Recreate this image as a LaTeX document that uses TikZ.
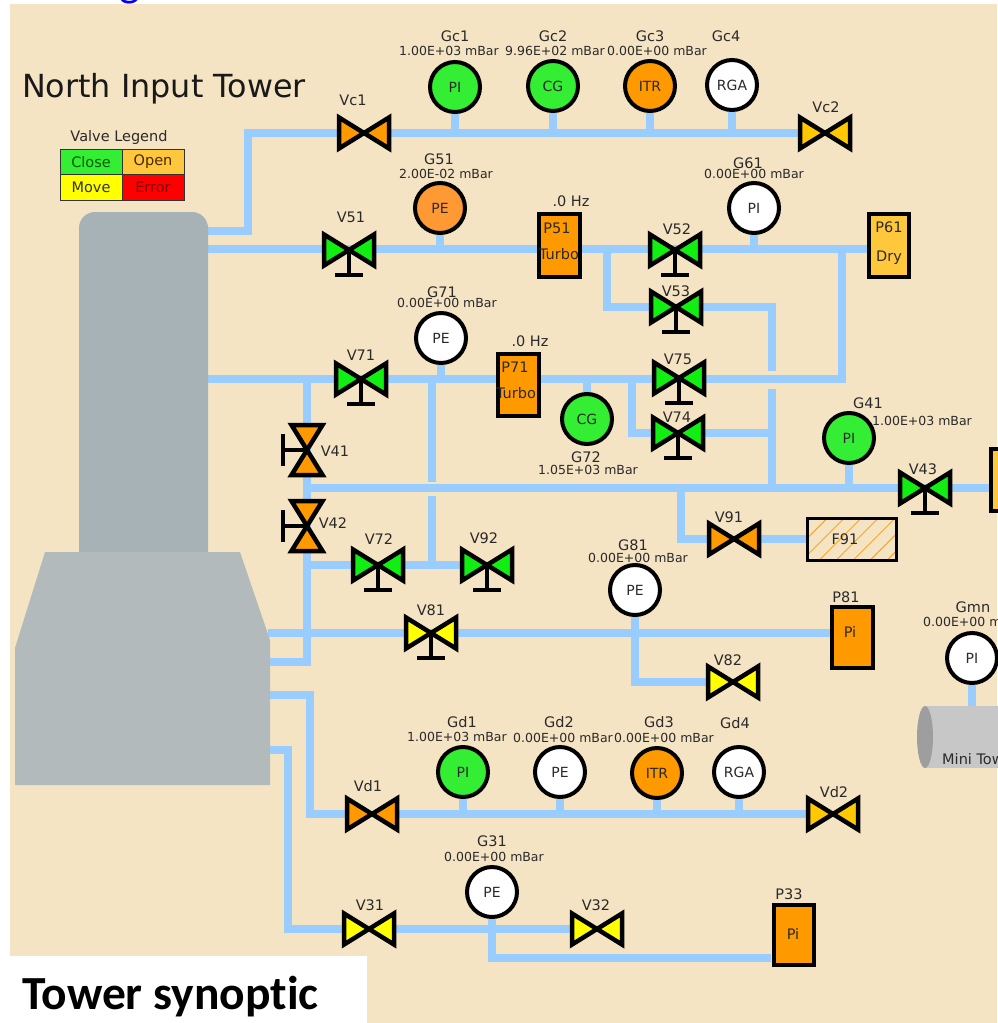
\documentclass[tikz,border=0pt]{standalone}
\usepackage{fontspec}
\setmainfont{DejaVu Sans}
\newfontfamily\slidefont[Ligatures=NoCommon]{Carlito}
\usepackage{xcolor}
\usepackage{tikz}
\usetikzlibrary{calc,patterns.meta,shapes.geometric}
\definecolor{sandc}{HTML}{F5E4C3}
\definecolor{pipec}{HTML}{99CCFF}
\definecolor{vgrn}{HTML}{11EE11}
\definecolor{ggrn}{HTML}{33EE33}
\definecolor{orgc}{HTML}{FF9900}
\definecolor{porg}{HTML}{FF9933}
\definecolor{ambc}{HTML}{FFC83C}
\definecolor{golc}{HTML}{FFC800}
\definecolor{yelc}{HTML}{FFFF00}
\definecolor{txtc}{HTML}{2A2A2A}
\definecolor{twru}{HTML}{A6B2B5}
\definecolor{twrl}{HTML}{B3BABB}
\tikzset{
  pipe/.style={draw=pipec,line width=8pt},
  vbox/.style={minimum width=50pt,minimum height=31pt,inner sep=0pt,outer sep=0pt},
  hbox/.style={minimum width=31pt,minimum height=50pt,inner sep=0pt,outer sep=0pt},
  vln/.style={draw=black,line width=4.5pt,miter limit=6},
  hnd/.style={draw=black,line width=4.5pt},
  gau/.style={circle,draw=black,line width=4pt,minimum size=50pt,inner sep=0pt,font=\fontsize{14}{14}\selectfont,text=txtc},
  pmp/.style={draw=black,line width=4pt,inner sep=0pt},
  nl/.style={inner sep=0pt,text=txtc,font=\fontsize{14.5}{15}\selectfont},
  vl/.style={inner sep=0pt,text=txtc,font=\fontsize{12.5}{13}\selectfont},
  lg/.style={draw=black!80,line width=1pt,minimum width=62pt,minimum height=25.5pt,inner sep=0pt,font=\fontsize{14.5}{15}\selectfont}
}
\pgfdeclarelayer{back}
\pgfdeclarelayer{pipes}
\pgfsetlayers{back,pipes,main}
\begin{document}
\begin{tikzpicture}[x=1pt,y=-1pt]
\useasboundingbox (0,0) rectangle (997,1023);
\begin{pgfonlayer}{back}
\fill[sandc] (10,4) rectangle (997,1023);
\fill[white] (0,956) rectangle (367,1023);
\end{pgfonlayer}
\node[anchor=base,inner sep=0pt,text=blue,font=\slidefont\fontsize{44}{44}\selectfont] (gcut) at (130,-4) {g};
\node[anchor=west,inner sep=0pt,text=black!90,font=\fontsize{31.8}{33}\selectfont] (title) at (22,89) {North Input Tower};
\node[anchor=west,inner sep=0pt,font=\slidefont\bfseries\fontsize{47.5}{48}\selectfont] (tsyn) at (22,997) {Tower synoptic};
% legend
\node[nl] (lgt) at (119,137) {Valve Legend};
\node[lg,fill=ggrn,text=green!35!black] (lg1) at (91,162) {Close};
\node[lg,fill=ambc,text=black!70!orange] (lg2) at (153,162) {Open};
\node[lg,fill=yelc,text=black!80] (lg3) at (91,187.5) {Move};
\node[lg,fill=red,text=red!50!black] (lg4) at (153,187.5) {Error};
% tower
\fill[twru] (79,552) -- (79,228) to[out=90,in=180] (95,212) -- (192,212) to[out=0,in=90] (208,228) -- (208,552) -- cycle;
\fill[twrl] (45,552) -- (240,552) -- (270,640) -- (270,785) -- (15,785) -- (15,648) -- cycle;
\coordinate (tw1) at (208,231);
\coordinate (tw2) at (208,249);
\coordinate (tw3) at (208,379);
\coordinate (ld1) at (268,633);
\coordinate (ld2) at (270,662);
\coordinate (ld3) at (270,695);
\coordinate (ld4) at (270,750);
% valves
\foreach \vn/\x/\y/\col/\lx/\ly in {Vc1/364/133/orgc/353/100,Vc2/825/133/golc/826/107,V51/349/250/vgrn/351/217,V52/675/250/vgrn/677/229,V53/676/307/vgrn/676/291,V71/361/379/vgrn/361/355,V75/679/378/vgrn/678/359,V74/678/433/vgrn/677/417,V43/925/488/vgrn/923/469,V72/378/565/vgrn/379/539,V92/487/565/vgrn/484/538,V91/734/539/orgc/729/517,V81/431/633/yelc/431/610,V82/733/682/yelc/728/660,Vd1/372/814/orgc/368/786,Vd2/833/814/golc/834/792,V31/369/929/yelc/370/905,V32/597/929/yelc/596/905}{
 \node[vbox] (\vn) at (\x,\y) {};
 \draw[vln,fill=\col] (\vn.north west) -- (\vn.south east) -- (\vn.north east) -- (\vn.south west) -- cycle;
 \node[nl] (\vn-l) at (\lx,\ly) {\vn};}
\foreach \vn in {V51,V52,V53,V71,V75,V74,V43,V72,V92,V81}{
 \draw[hnd] (\vn.center) -- ($(\vn)+(0,25)$);
 \draw[hnd] ($(\vn)+(-14,25)$) -- ($(\vn)+(14,25)$);}
\foreach \vn/\y/\lx/\ly/\col in {V41/450/335/451/orgc,V42/526/333/523/orgc}{
 \node[hbox] (\vn) at (307,\y) {};
 \draw[vln,fill=\col] (\vn.north west) -- (\vn.south east) -- (\vn.south west) -- (\vn.north east) -- cycle;
 \draw[hnd] (\vn.center) -- ($(\vn)+(-24,0)$);
 \draw[hnd] ($(\vn)+(-24,-16)$) -- ($(\vn)+(-24,16)$);
 \node[nl] (\vn-l) at (\lx,\ly) {\vn};}
% gauges
\foreach \gn/\x/\y/\col/\txt in {Gc1/455/87/ggrn/PI,Gc2/553/86/ggrn/CG,Gc3/650/86/orgc/ITR,Gc4/732/85/white/RGA,G51/440/208/porg/PE,G61/754/208/white/PI,G71/441/338/white/PE,G72/587/419/ggrn/CG,G41/849/438/ggrn/PI,G81/635/590/white/PE,Gmn/972/658/white/PI,Gd1/463/772/ggrn/PI,Gd2/560/772/white/PE,Gd3/657/773/orgc/ITR,Gd4/739/772/white/RGA,G31/492/892/white/PE}{
 \node[gau,fill=\col] (\gn) at (\x,\y) {\txt};}
\foreach \gn/\nx/\ny/\vx/\vy/\txt in {Gc1/455/36/449/51/1.00E+03 mBar,Gc2/553/36/555/51/9.96E+02 mBar,Gc3/650/36/657/51/0.00E+00 mBar,G51/439/159/446/174/2.00E-02 mBar,G61/748/163/754/174/0.00E+00 mBar,G71/442/292/447/303/0.00E+00 mBar,G72/586/457/588/470/1.05E+03 mBar,G41/868/403/922/421/1.00E+03 mBar,G81/633/545/638/558/0.00E+00 mBar,Gmn/973/607/973/622/0.00E+00 mBar,Gd1/462/722/457/737/1.00E+03 mBar,Gd2/559/722/563/738/0.00E+00 mBar,Gd3/659/722/664/738/0.00E+00 mBar,G31/492/841/494/857/0.00E+00 mBar}{
 \node[nl] (\gn-n) at (\nx,\ny) {\gn};
 \node[vl] (\gn-v) at (\vx,\vy) {\txt};}
\node[nl] (Gc4-n) at (726,36) {Gc4};
\node[nl] (Gd4-n) at (735,723) {Gd4};
% pumps
\node[pmp,fill=orgc,minimum width=41pt,minimum height=63pt] (P51) at (559.5,245.5) {};
\node[pmp,fill=ambc,minimum width=40pt,minimum height=63pt] (P61) at (889,245.5) {};
\node[pmp,fill=orgc,minimum width=41pt,minimum height=62pt] (P71) at (518,385) {};
\node[pmp,fill=orgc,minimum width=41pt,minimum height=61pt] (P81) at (852.5,637.5) {};
\node[pmp,fill=orgc,minimum width=40pt,minimum height=60pt] (P33) at (793.5,935) {};
\node[pmp,fill=ambc,minimum width=40pt,minimum height=62pt] (P41) at (1011,480) {};
\foreach \x/\y/\txt/\nn in {557/228/P51/a51,559/254/Turbo/b51,571/201/.0 Hz/c51,889/227/P61/a61,889/258/Dry/b61,515/367/P71/a71,516/393/Turbo/b71,530/341/.0 Hz/c71,846/597/P81/a81,850/632/Pi/b81,789/894/P33/a33,793/934/Pi/b33}{
 \node[nl] (\nn) at (\x,\y) {\txt};}
% filter
\node[draw=black,line width=3pt,minimum width=89pt,minimum height=42pt,inner sep=0pt,pattern={Lines[angle=45,distance=12pt,line width=.8pt]},pattern color=orgc] (F91) at (851.5,539) {};
\node[nl] (F91-l) at (845,539) {F91};
% mini tower
\node[fill=black!22,minimum width=80pt,minimum height=62pt,inner sep=0pt] (MT) at (965,737) {};
\node[fill=black!38,ellipse,minimum width=16pt,minimum height=62pt,inner sep=0pt] (MTe) at (925,737) {};
\node[nl,anchor=west] (MT-l) at (942,759) {Mini Tower};
% pipes
\coordinate (jc) at (248,133);
\coordinate (j53) at (607,250);
\coordinate (c53) at (772,371);
\coordinate (j61) at (842,250);
\coordinate (c74) at (772,389);
\coordinate (j74) at (632,379);
\coordinate (j41) at (307,379);
\coordinate (j43) at (307,488);
\coordinate (j71) at (432,379);
\coordinate (c71) at (432,482);
\coordinate (c72) at (432,496);
\coordinate (j91) at (681,488);
\coordinate (jd) at (310,814);
\coordinate (j31) at (288,929);
\coordinate (p33in) at (771,958);
\begin{pgfonlayer}{pipes}
\draw[pipe] (tw1) -| (jc) -- (Vc1) -- (Vc2);
\foreach \gn in {Gc1,Gc2,Gc3,Gc4}{\draw[pipe] (\gn) -- (\gn |- Vc1);}
\draw[pipe] (tw2) -- (tw2 -| P61);
\foreach \gn in {G51,G61}{\draw[pipe] (\gn) -- (\gn |- tw2);}
\draw[pipe] (j53) |- (V53) -| (c53);
\draw[pipe] (tw3) -- (tw3 -| j61) -- (j61);
\foreach \gn in {G71,G72}{\draw[pipe] (\gn) -- (\gn |- tw3);}
\draw[pipe] (c74) -- (c74 |- j43);
\draw[pipe] (j74) |- (V74) -- (V74 -| c74);
\draw[pipe] (j41) -- (j41 |- ld2) -- (ld2);
\draw[pipe] (j43) -- (j43 -| P41);
\draw[pipe] (G41) -- (G41 |- V43);
\draw[pipe] (j71) -- (c71);
\draw[pipe] (c72) -- (c72 |- V72);
\draw[pipe] (V72 -| j41) -- (V92);
\draw[pipe] (j91) |- (V91) -- (F91);
\draw[pipe] (ld1) -- (ld1 -| P81);
\draw[pipe] (G81) |- (V82);
\draw[pipe] (ld3) -| (jd) -- (Vd1) -- (Vd2);
\foreach \gn in {Gd1,Gd2,Gd3,Gd4}{\draw[pipe] (\gn) -- (\gn |- Vd1);}
\draw[pipe] (ld4) -| (j31) -- (V31) -- (V32);
\draw[pipe] (G31) |- (p33in);
\draw[pipe] (Gmn) -- (Gmn |- MT);
\end{pgfonlayer}
\end{tikzpicture}
\end{document}
